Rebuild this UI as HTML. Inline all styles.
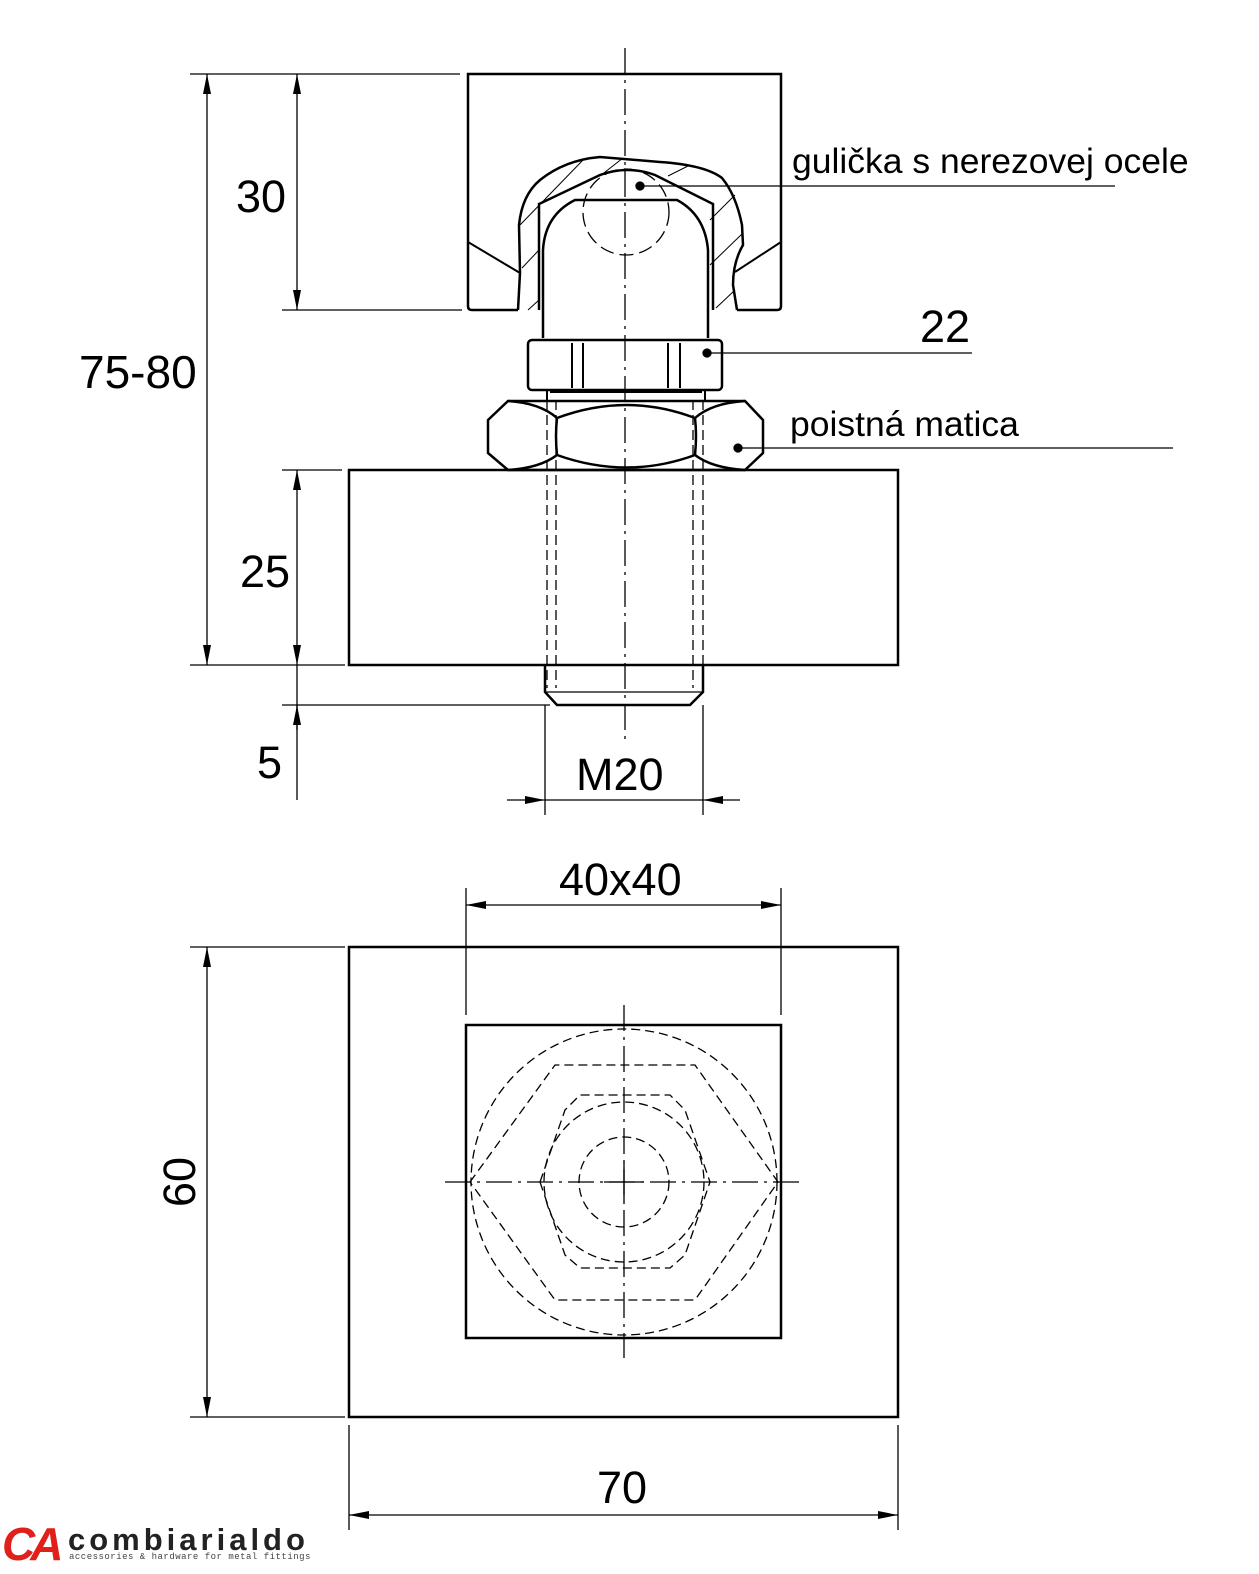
<!DOCTYPE html>
<html><head><meta charset="utf-8"><style>
html,body{margin:0;padding:0;background:#fff}
svg{display:block}
text{font-family:"Liberation Sans",sans-serif;fill:#000}
</style></head><body>
<svg width="1259" height="1574" viewBox="0 0 1259 1574" xmlns="http://www.w3.org/2000/svg">
<defs>
<marker id="a" viewBox="0 0 20 8" refX="20" refY="4" markerWidth="20" markerHeight="8" orient="auto-start-reverse" markerUnits="userSpaceOnUse"><path d="M0,0 L20,4 L0,8 z" fill="#000"/></marker>
</defs>
<g fill="none" stroke="#000" stroke-width="1.3">
<line x1="625" y1="48" x2="625" y2="740" stroke-dasharray="26,6,3,6"/>
<path d="M518,310 L472,310 Q468,310 468,306 L468,74 L781,74 L781,306 Q781,310 777,310 L737,310" stroke-width="2.5"/>
<line x1="468" y1="242" x2="520" y2="273" stroke-width="2"/>
<line x1="781" y1="242" x2="735" y2="272" stroke-width="2"/>
<path d="M518,310 L520,273 L519,225 Q522,195 540,180 Q565,160 600,157 L660,162 Q705,165 722,178 Q736,195 742,225 L743,245 Q733,262 733,285 L737,310" stroke-width="2.5"/>
<g stroke-width="1">
<line x1="520" y1="225" x2="583" y2="160"/><line x1="522" y1="268" x2="539" y2="250"/>
<line x1="528" y1="310" x2="539" y2="300"/><line x1="600" y1="176" x2="623" y2="158"/>
<line x1="668" y1="176" x2="690" y2="165"/><line x1="710" y1="220" x2="735" y2="195"/>
<line x1="710" y1="265" x2="743" y2="233"/><line x1="716" y1="308" x2="735" y2="290"/>
</g>
<path d="M539,310 L539,204 L600,175 Q627,165 655,175 L713,204 L713,310" stroke-width="2.5"/>
<circle cx="626" cy="212" r="43" stroke-dasharray="14,6"/>
<path d="M543,338 L543,250 Q545,215 575,200 L677,200 Q705,215 708,250 L708,338" stroke-width="2.5"/>
<rect x="528" y="340" width="194" height="50" rx="4" stroke-width="2.5"/>
<line x1="572" y1="343" x2="572" y2="388" stroke-width="2"/><line x1="583" y1="343" x2="583" y2="388" stroke-width="2"/>
<line x1="668" y1="343" x2="668" y2="388" stroke-width="2"/><line x1="680" y1="343" x2="680" y2="388" stroke-width="2"/>
<path d="M547,390 L547,401 M705,390 L705,401 M550,392 L702,392" stroke-width="2"/>
<path d="M508,401 L745,401 L763,420 L763,453 L745,470 L508,470 L488,453 L488,420 Z" stroke-width="2.5"/>
<path d="M557,418 Q555,436 557,455 M695,418 Q697,436 695,455" stroke-width="2.5"/>
<path d="M508,401 Q540,403 557,418 Q627,392 695,418 Q712,403 745,401" stroke-width="2.5"/>
<path d="M508,470 Q540,468 557,455 Q627,480 695,455 Q712,468 745,470" stroke-width="2.5"/>
<g stroke-dasharray="10,5"><line x1="547" y1="400" x2="547" y2="688"/><line x1="556" y1="400" x2="556" y2="688"/><line x1="693" y1="400" x2="693" y2="688"/><line x1="703" y1="400" x2="703" y2="688"/></g>
<rect x="349" y="470" width="549" height="195" stroke-width="2.5"/>
<path d="M545,665 L545,692 L557,705 L690,705 L703,692 L703,665" stroke-width="2.5"/>
<line x1="545" y1="692" x2="703" y2="692"/>
<line x1="190" y1="74" x2="460" y2="74"/><line x1="190" y1="665" x2="345" y2="665"/>
<line x1="207" y1="74" x2="207" y2="665" marker-start="url(#a)" marker-end="url(#a)"/>
<line x1="282" y1="310" x2="462" y2="310"/>
<line x1="297" y1="74" x2="297" y2="310" marker-start="url(#a)" marker-end="url(#a)"/>
<line x1="282" y1="470" x2="342" y2="470"/>
<line x1="297" y1="470" x2="297" y2="665" marker-start="url(#a)" marker-end="url(#a)"/>
<line x1="282" y1="705" x2="550" y2="705"/>
<line x1="297" y1="665" x2="297" y2="800"/>
<line x1="297" y1="730" x2="297" y2="705" marker-end="url(#a)"/>
<line x1="545" y1="705" x2="545" y2="815"/><line x1="703" y1="705" x2="703" y2="815"/>
<line x1="507" y1="800" x2="545" y2="800" marker-end="url(#a)"/><line x1="740" y1="800" x2="703" y2="800" marker-end="url(#a)"/>
<line x1="545" y1="800" x2="703" y2="800"/>
<line x1="640" y1="186" x2="1115" y2="186"/><circle cx="640" cy="186" r="4" fill="#000"/>
<line x1="707" y1="353" x2="972" y2="353"/><circle cx="707" cy="353" r="4" fill="#000"/>
<line x1="738" y1="448" x2="1173" y2="448"/><circle cx="738" cy="448" r="4" fill="#000"/>
<rect x="349" y="947" width="549" height="470" stroke-width="2.5"/>
<rect x="466" y="1025" width="315" height="313" stroke-width="2.5"/>
<g stroke-dasharray="9,5">
<circle cx="624" cy="1182" r="153"/>
<polygon points="470,1182 555,1065 695,1065 778,1182 695,1300 555,1300"/>
<polygon points="540,1182 565,1110 580,1095 670,1095 685,1110 710,1182 685,1255 670,1268 580,1268 565,1255"/>
<circle cx="624" cy="1182" r="80"/>
<circle cx="624" cy="1182" r="45"/>
</g>
<line x1="445" y1="1182" x2="800" y2="1182" stroke-dasharray="26,6,3,6"/>
<line x1="624" y1="1005" x2="624" y2="1358" stroke-dasharray="26,6,3,6"/>
<line x1="604" y1="1182" x2="644" y2="1182"/><line x1="624" y1="1162" x2="624" y2="1202"/>
<line x1="466" y1="888" x2="466" y2="1015"/><line x1="781" y1="888" x2="781" y2="1015"/>
<line x1="466" y1="905" x2="781" y2="905" marker-start="url(#a)" marker-end="url(#a)"/>
<line x1="190" y1="947" x2="345" y2="947"/><line x1="190" y1="1417" x2="345" y2="1417"/>
<line x1="207" y1="947" x2="207" y2="1417" marker-start="url(#a)" marker-end="url(#a)"/>
<line x1="349" y1="1425" x2="349" y2="1530"/><line x1="898" y1="1425" x2="898" y2="1530"/>
<line x1="349" y1="1515" x2="898" y2="1515" marker-start="url(#a)" marker-end="url(#a)"/>
</g>
<text x="79" y="388" font-size="46">75-80</text>
<text x="236" y="212" font-size="45">30</text>
<text x="240" y="587" font-size="45">25</text>
<text x="257" y="778" font-size="45">5</text>
<text x="576" y="790" font-size="45">M20</text>
<text x="792" y="173" font-size="35.5">gulička s nerezovej ocele</text>
<text x="920" y="342" font-size="45">22</text>
<text x="790" y="436" font-size="35.5">poistná matica</text>
<text x="559" y="895" font-size="45">40x40</text>
<text x="597" y="1503" font-size="45">70</text>
<text transform="translate(195,1182) rotate(-90)" text-anchor="middle" font-size="45">60</text>
<text x="2" y="1560" font-size="46" font-weight="bold" font-style="italic" style="fill:#e0201b" letter-spacing="-5">CA</text>
<text x="68" y="1550" font-size="31" font-weight="bold" style="fill:#222" letter-spacing="4">combiarialdo</text>
<text x="69" y="1559" font-size="9" style="fill:#444;font-family:'Liberation Mono',monospace" letter-spacing="0.5">accessories &amp; hardware for metal fittings</text>
</svg>
</body></html>
